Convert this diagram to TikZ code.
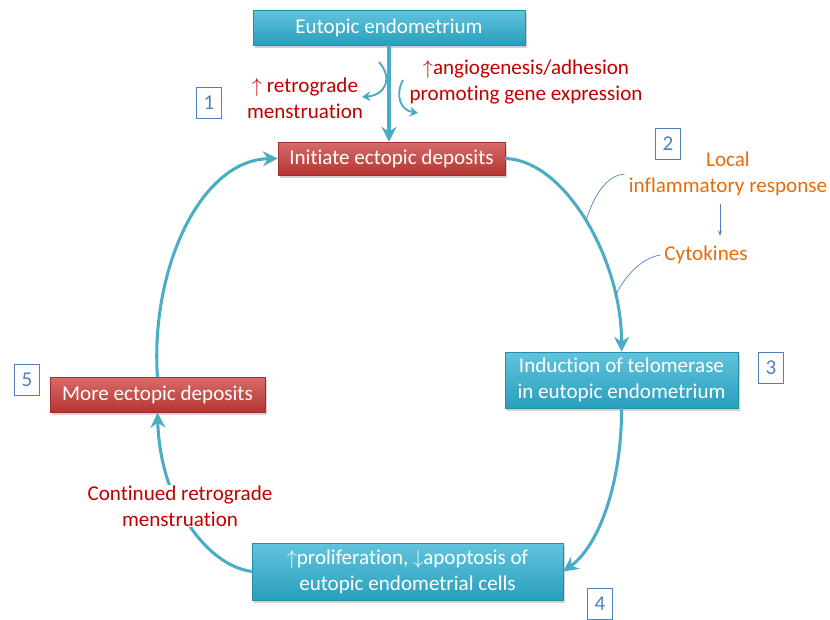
\documentclass[tikz,border=0pt]{standalone}
\usepackage{fontspec}
\setmainfont{Carlito}[Ligatures=NoCommon]
\usepackage{tikz}
\usetikzlibrary{arrows.meta,calc,shadows}
\definecolor{cyn}{HTML}{2DB0D2}
\definecolor{rdd}{HTML}{C93A36}
\definecolor{tea}{HTML}{4BACC6}
\definecolor{txr}{HTML}{C00000}
\definecolor{txo}{HTML}{E46C0A}
\definecolor{nbl}{HTML}{4F81BD}
\newcommand{\lbl}{\fontsize{18}{22}\selectfont}

\begin{document}
\begin{tikzpicture}[x=0.3mm, y=-0.3mm,
  box/.style={draw=#1!80!black, line width=0.4pt, top color=#1!75!white, bottom color=#1!90!black, text=white, align=center, font=\lbl, inner sep=2pt, drop shadow={opacity=0.35, shadow xshift=0.6mm, shadow yshift=-0.8mm}},
  box/.default=cyn,
  num/.style={draw=nbl, line width=1.1pt, text=nbl, font=\lbl, minimum width=7.5mm, minimum height=9.3mm, inner sep=0pt},
  lab/.style={font=\lbl, align=center, text=#1},
  ar/.style={-{Stealth[length=4.5mm, width=4.5mm, inset=1.5mm]}, line width=2.6pt, tea},
  sar/.style={-{Stealth[length=2.5mm, width=3mm]}, line width=1.6pt, tea},
  cal/.style={nbl, line width=0.6pt}]
\useasboundingbox (0,0) rectangle (830,619);
% boxes of the cycle
\node[box, minimum width=81.6mm, minimum height=10.5mm] (eut) at (389,27.5) {Eutopic endometrium};
\node[box=rdd, minimum width=68.1mm, minimum height=9.9mm] (init) at (391.5,158.5) {Initiate ectopic deposits};
\node[box, minimum width=69.9mm, minimum height=16.8mm] (ind) at (621.5,380) {Induction of telomerase\\in eutopic endometrium};
\node[box, minimum width=93.3mm, minimum height=17.1mm] (prol) at (407.5,571.5) {$\uparrow$proliferation, $\downarrow$apoptosis of\\eutopic endometrial cells};
\node[box=rdd, minimum width=64.5mm, minimum height=10.5mm] (more) at (157.5,395) {More ectopic deposits};
% labels
\node[lab=txr] (retro) at (305,98) {$\uparrow$ retrograde\\menstruation};
\node[lab=txr] (angio) at (526,82) {$\uparrow$angiogenesis/adhesion\\promoting gene expression};
\node[lab=txo] (loc) at (728,174) {Local\\inflammatory response};
\node[lab=txo] (cyt) at (706,255) {Cytokines};
\foreach \n/\p in {1/{209,103}, 2/{668,144}, 3/{771,368}, 4/{600,604}, 5/{27,380}}
  \node[num] (n\n) at (\p) {\n};
% connectors
\draw[ar] (eut.south) -- (eut.south |- init.north);
\coordinate (l0) at (379,62); \coordinate (l1) at (362,97);
\coordinate (r0) at (403,80); \coordinate (r1) at (418,113);
\draw[sar] (l0) .. controls (393,78) and (386,95) .. (l1);
\draw[sar] (r0) .. controls (395,95) and (400,110) .. (r1);
\draw[ar] (init.east) .. controls (565,160) and (622,260) .. coordinate[pos=0.5] (a1) coordinate[pos=0.8] (a2) (ind.north);
\draw[ar] (ind.south) .. controls (622,480) and (600,545) .. (prol.east);
\draw[ar] (prol.west) .. controls (205,565) and (160,500) .. (more.south);
\draw[ar] (more.north) .. controls (150,270) and (200,160) .. (init.west);
\draw[cal] (loc.west) .. controls (605,175) and (592,200) .. (a1);
\draw[cal] (cyt.west) .. controls (640,258) and (622,280) .. (a2);
\draw[-{Stealth[length=1.6mm]}, cal] ($(loc.south)+(-8,4)$) -- ($(cyt.north)+(14,-6)$);
% label over the lower left arc
\node[lab=txr, fill=white, inner sep=1pt] (cont) at (180,506) {Continued retrograde\\menstruation};
\end{tikzpicture}
\end{document}
